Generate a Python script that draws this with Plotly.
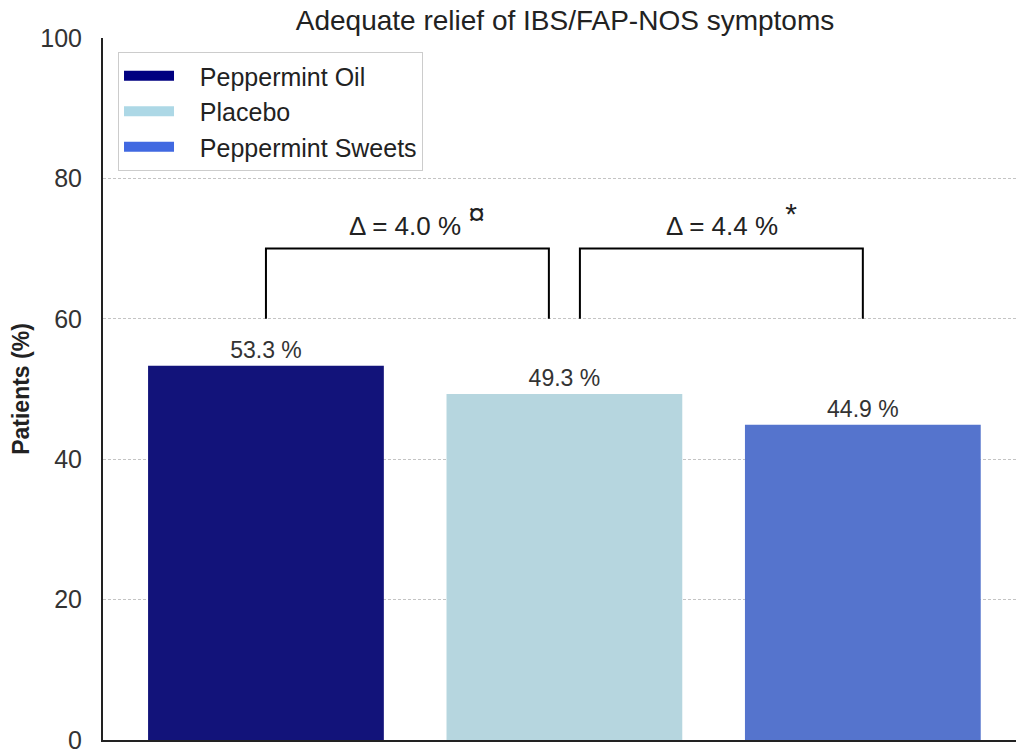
import plotly.graph_objects as go

groups = ["Peppermint Oil", "Placebo", "Peppermint Sweets"]
values = [53.3, 49.3, 44.9]
bar_colors = ["#12137a", "#b6d6df", "#5574cd"]
legend_colors = ["#000080", "#add8e6", "#4169e1"]
value_labels = ["53.3 %", "49.3 %", "44.9 %"]
y_ticks = [0, 20, 40, 60, 80, 100]
# comparisons: (from index, to index, label, marker)
comparisons = [(0, 1, "Δ = 4.0 %", "¤"), (1, 2, "Δ = 4.4 %", "*")]
bracket_base = 60
bracket_top = 70

font_family = "Liberation Sans, Arial, sans-serif"
xs = list(range(len(groups)))

W, H = 1016, 741  # page has an 8px body margin

fig = go.Figure()
fig.add_trace(go.Bar(
    x=xs, y=values, width=0.79, marker=dict(color=bar_colors, line=dict(width=0)),
    text=value_labels, textposition="outside", cliponaxis=False,
    textfont=dict(size=23, color="#333333", family=font_family),
    showlegend=False,
))
for name, col in zip(groups, legend_colors):
    fig.add_trace(go.Scatter(
        x=[None], y=[None], mode="lines", name="\u00a0\u00a0\u00a0" + name,
        line=dict(color=col, width=14),
    ))

for i, j, lab, mark in comparisons:
    x0 = i if i == 0 else i + 0.052
    x1 = j - 0.052 if j == 1 else j
    fig.add_trace(go.Scatter(
        x=[x0, x0, x1, x1], y=[bracket_base, bracket_top, bracket_top, bracket_base],
        mode="lines", line=dict(color="black", width=2), showlegend=False, hoverinfo="skip",
    ))
    fig.add_annotation(
        x=(x0 + x1) / 2, y=bracket_top, yshift=6, xshift=10, yanchor="bottom", showarrow=False,
        text=lab + " <sup><span style='font-size:30px'>" + mark + "</span></sup>",
        font=dict(size=26, color="#222222", family=font_family),
    )

fig.update_layout(
    width=W, height=H,
    margin=dict(l=95, r=0, t=30, b=9, autoexpand=False),
    paper_bgcolor="white", plot_bgcolor="white",
    title=dict(text="Adequate relief of IBS/FAP-NOS symptoms", x=557 / W, xanchor="center",
               xref="container", y=1 - 2 / H, yanchor="top", yref="container",
               pad=dict(t=0, b=0, l=0, r=0),
               font=dict(size=28, color="#222222", family=font_family)),
    showlegend=True,
    legend=dict(x=0.0163, y=0.98, xanchor="left", yanchor="top",
                bgcolor="white", bordercolor="#cccccc", borderwidth=1,
                font=dict(size=25, color="#222222", family=font_family),
                itemwidth=50, tracegroupgap=0),
    xaxis=dict(range=[-0.546, 2.54], showticklabels=False, ticks="", showgrid=False,
               zeroline=False, showline=True, linecolor="#222222", linewidth=2,
               automargin=False),
    yaxis=dict(range=[0, 100], tickvals=y_ticks, showgrid=True, gridcolor="#c4c4c4",
               griddash="3px,2px", gridwidth=1, zeroline=False, showline=True,
               linecolor="#222222", linewidth=2, ticks="", ticklabelstandoff=14,
               automargin=False, ticklabeloverflow="allow",
               tickfont=dict(size=25, color="#333333", family=font_family),
               title=dict(text="<b>Patients (%)</b>", standoff=21,
                          font=dict(size=23, color="#222222", family=font_family))),
)

fig.write_html("out.html")
